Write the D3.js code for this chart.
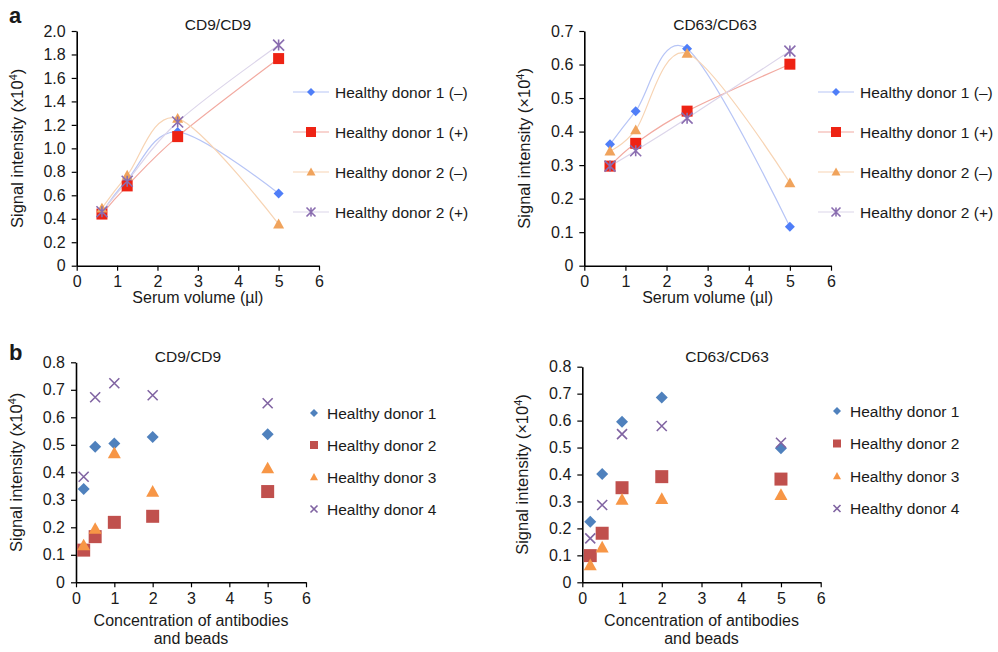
<!DOCTYPE html>
<html>
<head>
<meta charset="utf-8">
<script src="https://cdn.jsdelivr.net/npm/d3@7"></script>
<style>
  body { margin: 0; background: #fff; }
  svg { display: block; }
  text { font-family: "Liberation Sans", Arial, Helvetica, sans-serif; fill: #1a1a1a; }
</style>
</head>
<body>
<svg id="chart" width="998" height="652"></svg>
<script>
// ---- data ----
const serumVolume = [0.625, 1.25, 2.5, 5];
const concentration = [0.2, 0.5, 1, 2, 5];

const seriesNamesA = ["Healthy donor 1 (–)", "Healthy donor 1 (+)", "Healthy donor 2 (–)", "Healthy donor 2 (+)"];
const seriesNamesB = ["Healthy donor 1", "Healthy donor 2", "Healthy donor 3", "Healthy donor 4"];

// panel a, CD9/CD9
const cd9Volume = [
  [0.45, 0.73, 1.14, 0.615],
  [0.44, 0.68, 1.10, 1.765],
  [0.49, 0.77, 1.255, 0.355],
  [0.46, 0.72, 1.225, 1.88]
];
// panel a, CD63/CD63
const cd63Volume = [
  [0.362, 0.461, 0.647, 0.116],
  [0.297, 0.365, 0.461, 0.601],
  [0.342, 0.405, 0.633, 0.247],
  [0.297, 0.343, 0.440, 0.640]
];
// panel b, CD9/CD9
const cd9Conc = [
  [0.339, 0.493, 0.505, 0.528, 0.538],
  [0.117, 0.166, 0.218, 0.240, 0.330],
  [0.135, 0.195, 0.470, 0.330, 0.415],
  [0.384, 0.673, 0.724, 0.680, 0.651]
];
// panel b, CD63/CD63
const cd63Conc = [
  [0.225, 0.402, 0.596, 0.686, 0.497],
  [0.099, 0.182, 0.351, 0.392, 0.383],
  [0.064, 0.130, 0.307, 0.310, 0.325],
  [0.163, 0.287, 0.550, 0.580, 0.518]
];

const xTicks = [0, 1, 2, 3, 4, 5, 6];
const yTicksCd9Vol = d3.range(0, 2.01, 0.2);
const yTicksCd63Vol = d3.range(0, 0.71, 0.1);
const yTicksConc = d3.range(0, 0.81, 0.1);

// ---- styles ----
const markerA = ["#4f7ef8", "#ee2314", "#f0a35c", "#8a6db0"];
const lineA = ["#b7c5f6", "#f2aaa1", "#f7d4b4", "#dcd5ea"];
const markerB = ["#4f81bd", "#c0504d", "#f79646", "#8064a2"];
const shapes = ["diamond", "square", "triangle", "star"];

const svg = d3.select("#chart");

function markerPath(shape, s) {
  const h = s / 2;
  switch (shape) {
    case "diamond":
      return `M0,${-h}L${h},0L0,${h}L${-h},0Z`;
    case "square":
      return `M${-h},${-h}H${h}V${h}H${-h}Z`;
    case "triangle":
      return `M0,${-h}L${h},${h * 0.8}L${-h},${h * 0.8}Z`;
    case "star":
      return `M${-h},${-h}L${h},${h}M${h},${-h}L${-h},${h}M0,${-h}V${h}`;
    case "cross":
      return `M${-h},${-h}L${h},${h}M${h},${-h}L${-h},${h}`;
  }
}

function drawMarker(g, shape, x, y, size, color) {
  const p = g.append("path")
    .attr("transform", `translate(${x},${y})`)
    .attr("d", markerPath(shape, size));
  if (shape === "star" || shape === "cross") {
    p.attr("fill", "none").attr("stroke", color).attr("stroke-width", 1.6);
  } else {
    p.attr("fill", color);
  }
}

function yLabel(g, x, y, times) {
  const t = g.append("text")
    .attr("transform", `translate(${x},${y}) rotate(-90)`)
    .attr("text-anchor", "middle")
    .style("font-size", "16.5px");
  t.append("tspan").text("Signal intensity (" + (times ? "×" : "x") + "10");
  t.append("tspan").text("4").style("font-size", "11px").attr("dy", -6);
  t.append("tspan").text(")").attr("dy", 6);
}

function panel(opt) {
  const g = svg.append("g");
  const x = d3.scaleLinear().domain([0, 6]).range([opt.x0, opt.x1]);
  const y = d3.scaleLinear().domain([0, opt.yMax]).range([opt.yBot, opt.yTop]);

  const xAxis = g.append("g")
    .attr("transform", `translate(0,${opt.yBot})`)
    .call(d3.axisBottom(x).tickValues(xTicks).tickSize(5).tickSizeOuter(0).tickPadding(5)
      .tickFormat(d3.format("d")));
  const yAxis = g.append("g")
    .attr("transform", `translate(${opt.x0},0)`)
    .call(d3.axisLeft(y).tickValues(opt.yTicks).tickSize(5).tickSizeOuter(0).tickPadding(6)
      .tickFormat(d => d === 0 ? "0" : d3.format(".1f")(d)));
  [xAxis, yAxis].forEach(a => {
    a.select(".domain").attr("stroke", "#000").attr("stroke-width", 1.6);
    a.selectAll(".tick line").attr("stroke", "#000").attr("stroke-width", 1.2);
    a.selectAll(".tick text").style("font-size", "16px").attr("fill", "#1a1a1a");
  });

  g.append("text").attr("x", opt.titleX).attr("y", opt.titleY)
    .attr("text-anchor", "middle").style("font-size", "15.5px").text(opt.title);

  yLabel(g, opt.x0 - 54, (opt.yTop + opt.yBot) / 2, opt.times);

  const cx = (opt.x0 + opt.x1) / 2;
  opt.xLabel.forEach((l, i) => {
    g.append("text").attr("x", cx).attr("y", opt.xLabelY + i * 18)
      .attr("text-anchor", "middle").style("font-size", "16px").text(l);
  });

  const xs = opt.xValues;
  if (opt.lines) {
    const line = d3.line().curve(d3.curveCardinal.tension(0))
      .x((d, i) => x(xs[i])).y(d => y(d));
    opt.data.forEach((s, k) => {
      g.append("path").attr("d", line(s)).attr("fill", "none")
        .attr("stroke", lineA[k]).attr("stroke-width", 1.2);
    });
  }
  opt.data.forEach((s, k) => {
    s.forEach((v, i) => {
      drawMarker(g, opt.shapes[k], x(xs[i]), y(v), opt.mSize[k], opt.colors[k]);
    });
  });

  // legend
  opt.names.forEach((n, k) => {
    const ly = opt.legY + k * opt.legStep;
    if (opt.lines) {
      g.append("line").attr("x1", opt.legX - 18).attr("x2", opt.legX + 18)
        .attr("y1", ly).attr("y2", ly).attr("stroke", lineA[k]).attr("stroke-width", 1.2);
    }
    drawMarker(g, opt.shapes[k], opt.legX, ly, opt.legSize[k], opt.colors[k]);
    g.append("text").attr("x", opt.legX + opt.legGap).attr("y", ly + 5.5)
      .style("font-size", "15.5px").text(n);
  });
}

// panel letters
svg.append("text").attr("x", 9).attr("y", 23).style("font-size", "22px").style("font-weight", "bold").text("a");
svg.append("text").attr("x", 9).attr("y", 360).style("font-size", "22px").style("font-weight", "bold").text("b");

panel({
  x0: 76.7, x1: 319, yTop: 31, yBot: 265.7, yMax: 2.0, yTicks: yTicksCd9Vol,
  title: "CD9/CD9", titleX: 218, titleY: 30, times: false,
  xLabel: ["Serum volume (µl)"], xLabelY: 303,
  xValues: serumVolume, data: cd9Volume, lines: true,
  shapes: shapes, colors: markerA, mSize: [10, 11, 11, 11],
  names: seriesNamesA, legX: 311, legY: 92, legStep: 40, legGap: 24, legSize: [8, 10, 9, 9]
});

panel({
  x0: 584.3, x1: 831, yTop: 31, yBot: 265.7, yMax: 0.7, yTicks: yTicksCd63Vol,
  title: "CD63/CD63", titleX: 715, titleY: 30, times: true,
  xLabel: ["Serum volume (µl)"], xLabelY: 303,
  xValues: serumVolume, data: cd63Volume, lines: true,
  shapes: shapes, colors: markerA, mSize: [10, 11, 11, 11],
  names: seriesNamesA, legX: 836, legY: 92, legStep: 40, legGap: 24, legSize: [8, 10, 9, 9]
});

panel({
  x0: 76, x1: 306, yTop: 362.3, yBot: 582.3, yMax: 0.8, yTicks: yTicksConc,
  title: "CD9/CD9", titleX: 188, titleY: 362, times: false,
  xLabel: ["Concentration of antibodies", "and beads"], xLabelY: 626,
  xValues: concentration, data: cd9Conc, lines: false,
  shapes: ["diamond", "square", "triangle", "cross"], colors: markerB, mSize: [12, 13, 13, 10],
  names: seriesNamesB, legX: 314, legY: 413, legStep: 32, legGap: 13, legSize: [8, 8, 8, 7]
});

panel({
  x0: 582.3, x1: 820.7, yTop: 366.7, yBot: 582.3, yMax: 0.8, yTicks: yTicksConc,
  title: "CD63/CD63", titleX: 727, titleY: 362, times: true,
  xLabel: ["Concentration of antibodies", "and beads"], xLabelY: 626,
  xValues: concentration, data: cd63Conc, lines: false,
  shapes: ["diamond", "square", "triangle", "cross"], colors: markerB, mSize: [12, 13, 13, 10],
  names: seriesNamesB, legX: 837, legY: 411, legStep: 32.5, legGap: 13, legSize: [8, 8, 8, 7]
});
</script>
</body>
</html>
